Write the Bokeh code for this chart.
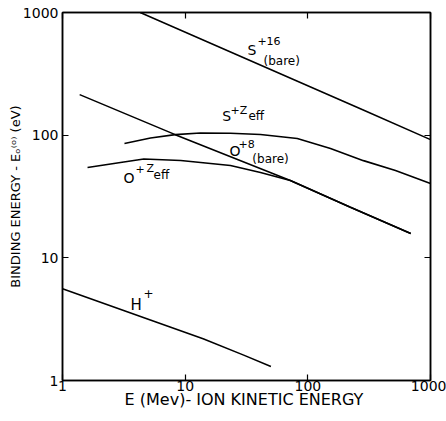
from bokeh.plotting import figure
from bokeh.models import Range1d, LogAxis, FixedTicker, CustomJSTickFormatter, ColumnDataSource
from bokeh.core.properties import value
from bokeh.embed import file_html
from bokeh.resources import INLINE

# ---- data ----
tick_values = [1, 10, 100, 1000]
tick_labels = ["1", "10", "100", "1000"]

s16_x = [4.3, 30, 280, 1000]
s16_y = [1000, 428, 161, 92]

szeff_x = [3.2, 5.22, 8.3, 13.3, 23.4, 41.1, 82, 153, 284, 518, 1000]
szeff_y = [85.4, 94.8, 101, 104.2, 103.6, 101.3, 93.8, 77.9, 62, 51.5, 40.4]

o8_x = [1.38, 8.3, 72, 220, 690]
o8_y = [214, 101, 42.7, 26, 15.8]

ozeff_x = [1.6, 2.97, 4.6, 9.2, 23.4, 41.1, 72, 220, 690]
ozeff_y = [54.5, 59.9, 63.9, 62.1, 56.6, 49.6, 42.7, 26, 15.8]

h_x = [1, 5, 14, 30, 50]
h_y = [5.6, 3.16, 2.19, 1.61, 1.30]

x_title = "E  (Mev)- ION KINETIC ENERGY"
y_title = "BINDING ENERGY - E\u2092\u207d\u1d52\u207e (eV)"

# curve annotations: (text, x, y, font size)
curve_labels = [
    ("S", 32.2, 454, "14px"), ("+16", 38.8, 537, "11px"), ("(bare)", 43.5, 369, "12px"),
    ("S", 20.1, 131.5, "14px"), ("+Z", 23.4, 144.5, "11px"), ("eff", 32.8, 131.5, "12px"),
    ("O", 23.0, 68.2, "14px"), ("+8", 27.2, 77.8, "11px"), ("(bare)", 35.3, 58.7, "12px"),
    ("O", 3.14, 41.1, "14px"), ("+", 3.94, 48.6, "11px"), ("Z", 4.84, 48.6, "11px"), ("eff", 5.52, 43.5, "12px"),
    ("H", 3.58, 3.79, "15px"), ("+", 4.57, 4.66, "12px"),
]

FONT = "DejaVu Sans"

p = figure(width=446, height=413, x_axis_type="log", y_axis_type="log",
           x_range=Range1d(1, 1000), y_range=Range1d(1, 1000),
           output_backend="svg", toolbar_location=None,
           min_border_left=62, min_border_right=16, min_border_top=12, min_border_bottom=33)

p.grid.visible = False
p.outline_line_color = "black"
p.outline_line_width = 1.5
p.background_fill_color = "white"
p.border_fill_color = "white"

ticker = FixedTicker(ticks=tick_values)
overrides = {v: t for v, t in zip(tick_values, tick_labels)}

for ax in p.xaxis + p.yaxis:
    ax.ticker = ticker
    ax.major_label_overrides = overrides
    ax.major_tick_in = 6
    ax.major_tick_out = 0
    ax.minor_tick_line_color = None
    ax.axis_line_width = 1.5
    ax.major_tick_line_width = 1.2
    ax.axis_line_color = "black"
    ax.major_label_text_font = FONT
    ax.major_label_text_font_size = "14px"
    ax.major_label_text_color = "black"
    ax.axis_label_text_font = FONT
    ax.axis_label_text_font_style = "normal"
    ax.axis_label_text_color = "black"

p.xaxis.major_label_standoff = 0
p.yaxis.major_label_standoff = 4
p.xaxis.axis_label = x_title
p.xaxis.axis_label_text_font_size = "16px"
p.xaxis.axis_label_standoff = -4
p.yaxis.axis_label = y_title
p.yaxis.axis_label_text_font_size = "13px"
p.yaxis.axis_label_standoff = -3

empty = CustomJSTickFormatter(code="return ''")
for side in ("above", "right"):
    ax = LogAxis(ticker=FixedTicker(ticks=tick_values), formatter=empty,
                 major_tick_in=6, major_tick_out=0, minor_tick_line_color=None,
                 axis_line_width=1.5, major_tick_line_width=1.2,
                 major_label_standoff=0, major_label_text_font_size="1px")
    p.add_layout(ax, side)

lw = 1.6
p.line(s16_x, s16_y, line_color="black", line_width=lw)
p.line(szeff_x, szeff_y, line_color="black", line_width=lw)
p.line(o8_x, o8_y, line_color="black", line_width=lw)
p.line(ozeff_x, ozeff_y, line_color="black", line_width=lw)
p.line(h_x, h_y, line_color="black", line_width=lw)

src = ColumnDataSource(dict(
    text=[c[0] for c in curve_labels],
    x=[c[1] for c in curve_labels],
    y=[c[2] for c in curve_labels],
    size=[c[3] for c in curve_labels],
))
p.text(x="x", y="y", text="text", source=src, text_font=value(FONT),
       text_font_size="size", text_align="left", text_baseline="alphabetic",
       text_color="black", y_offset=-5)

open("out.html", "w").write(file_html(p, INLINE))
